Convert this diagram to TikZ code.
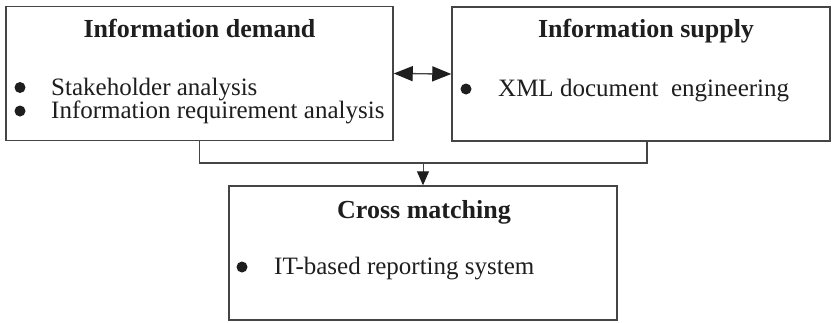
\documentclass[tikz,border=0pt]{standalone}
\usepackage{fontspec}
\setmainfont{Liberation Serif}
\usetikzlibrary{arrows.meta}
\definecolor{edge}{HTML}{454545}
\definecolor{ink}{HTML}{1E1E1E}
\tikzset{
  panel/.style={draw=edge, line width=1.5pt, fill=white, inner sep=0pt},
  heading/.style={anchor=base, inner sep=0pt, text=ink, font=\fontsize{26}{30}\selectfont\bfseries},
  item/.style={anchor=base west, inner sep=0pt, text=ink, font=\fontsize{25}{30}\selectfont},
  dot/.style={circle, fill=ink, inner sep=0pt, minimum size=11pt},
  link/.style={draw=edge, line width=1.4pt},
}
\begin{document}
\begin{tikzpicture}[x=1pt,y=-1pt]
\useasboundingbox (0,0) rectangle (832,322);

% three boxes
\node[panel, minimum width=387pt, minimum height=134pt] (demand) at (199.5,73.5) {};
\node[panel, minimum width=378pt, minimum height=134pt] (supply) at (641,74) {};
\node[panel, minimum width=388pt, minimum height=134pt] (cross) at (423,253) {};

% Information demand
\node[heading] (dtitle) at (199.5,37) {Information demand};
\node[dot] (db1) at (20,87.5) {};
\node[item] (dt1) at (51,95) {Stakeholder analysis};
\node[dot] (db2) at (20,111) {};
\node[item] (dt2) at (51,118.5) {Information requirement analysis};

% Information supply
\node[heading] (stitle) at (646,37) {Information supply};
\node[dot] (sb1) at (466,89) {};
\node[item] (st1) at (498,96.5) {XML document\ \ engineering};

% Cross matching
\node[heading] (ctitle) at (424,218) {Cross matching};
\node[dot] (cb1) at (242,267) {};
\node[item] (ct1) at (274,274.5) {IT-based reporting system};

% connectors
\draw[link, {Triangle[length=19pt,width=15pt,color=ink]}-{Triangle[length=19pt,width=15pt,color=ink]}]
  (demand.east) -- (supply.west);
\coordinate (merge) at (423,163);
\coordinate (sfoot) at (647,140.5);
\draw[link] (demand.south) |- (merge) -| (sfoot);
\draw[link, line width=1pt, -{Triangle[length=14pt,width=12pt,color=ink]}] (merge) -- (cross.north);
\end{tikzpicture}
\end{document}
